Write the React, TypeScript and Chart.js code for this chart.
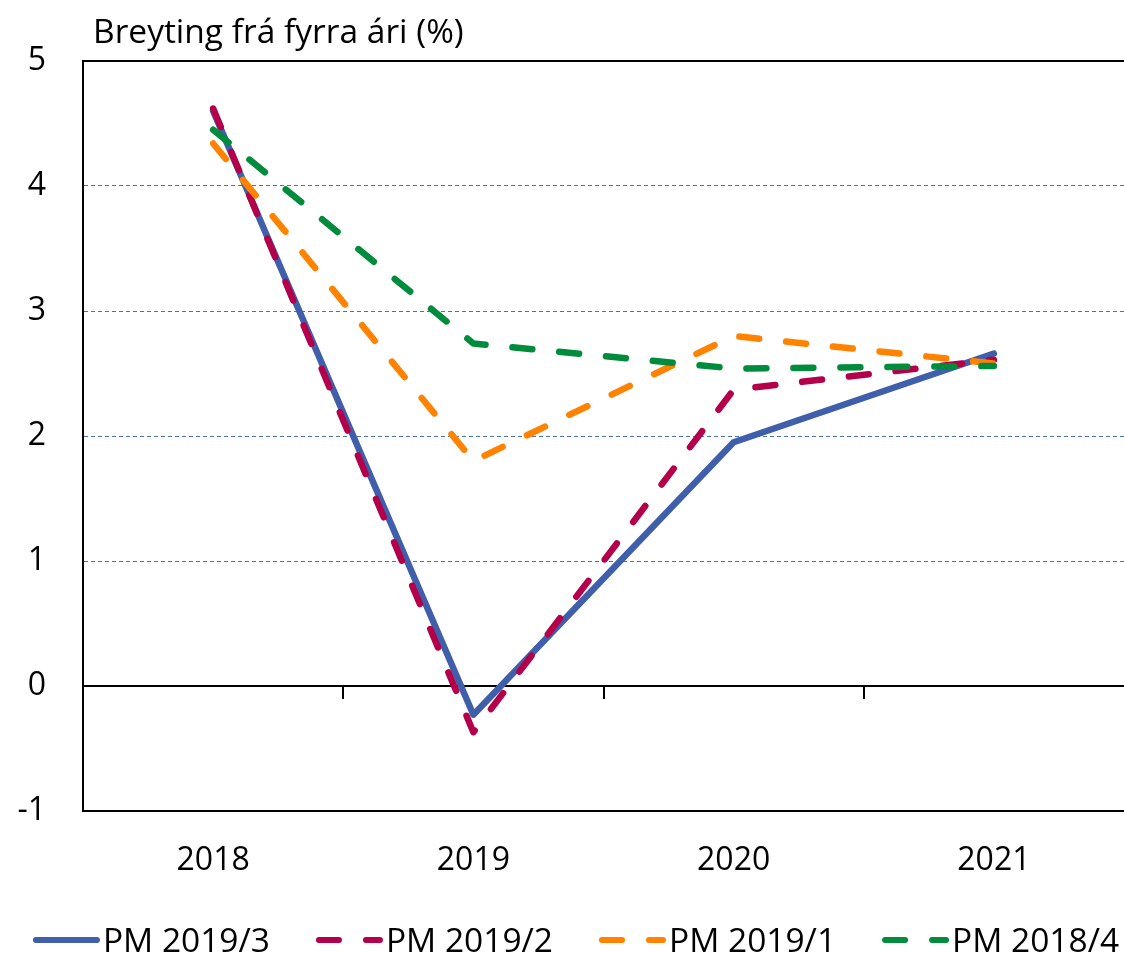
import React, { useEffect, useRef } from "react";
import { Chart, registerables } from "chart.js";

Chart.register(...registerables);

const categories = ["2018", "2019", "2020", "2021"];
const seriesLabels = ["PM 2019/3", "PM 2019/2", "PM 2019/1", "PM 2018/4"];
const pm2019_3 = [4.6, -0.23, 1.95, 2.66];
const pm2019_2 = [4.62, -0.37, 2.37, 2.61];
const pm2019_1 = [4.34, 1.8, 2.8, 2.58];
const pm2018_4 = [4.45, 2.74, 2.54, 2.56];
const yMin = -1;
const yMax = 5;
const yStep = 1;
const titleText = "Breyting frá fyrra ári (%)";

const FONT = "'Open Sans', 'Noto Sans', sans-serif";
const W = 1124;
const H = 956;
const DASH = [20, 27];

const decorPlugin = {
  id: "decor",
  beforeDatasetsDraw(chart: any) {
    const { ctx, scales } = chart;
    const x = scales.x;
    const y = scales.y;
    const y0 = y.getPixelForValue(0);
    ctx.save();
    ctx.strokeStyle = "#000";
    ctx.lineWidth = 2;
    for (let i = 1; i < categories.length; i++) {
      const px = Math.round((x.getPixelForValue(i - 1) + x.getPixelForValue(i)) / 2);
      ctx.beginPath();
      ctx.moveTo(px, y0);
      ctx.lineTo(px, y0 + 13);
      ctx.stroke();
    }
    ctx.restore();
  },
  afterDraw(chart: any) {
    const { ctx, chartArea } = chart;
    ctx.save();
    // title
    ctx.fillStyle = "#000";
    ctx.font = `33.5px ${FONT}`;
    ctx.textAlign = "left";
    ctx.textBaseline = "alphabetic";
    ctx.fillText(titleText, chartArea.left + 10, 43);

    // legend
    ctx.font = `33.5px ${FONT}`;
    const sampleW = 67;
    const textGap = 3;
    const itemGap = 46;
    const ds = chart.data.datasets;
    const widths = ds.map((d: any) => sampleW + textGap + ctx.measureText(d.label).width);
    const total = widths.reduce((a: number, b: number) => a + b, 0) + itemGap * (ds.length - 1);
    let x = (chart.width - total) / 2 + 14;
    const ly = 940;
    ds.forEach((d: any, i: number) => {
      ctx.save();
      ctx.strokeStyle = d.borderColor;
      ctx.lineWidth = 6;
      ctx.lineCap = "round";
      ctx.setLineDash(d.borderDash || []);
      ctx.beginPath();
      ctx.moveTo(x + 3, ly);
      ctx.lineTo(x + sampleW - 3, ly);
      ctx.stroke();
      ctx.restore();
      ctx.fillStyle = "#000";
      ctx.textAlign = "left";
      ctx.textBaseline = "alphabetic";
      ctx.fillText(d.label, x + sampleW + textGap, 952);
      x += widths[i] + itemGap;
    });
    ctx.restore();
  },
};

export default function App() {
  const canvasRef = useRef<HTMLCanvasElement | null>(null);

  useEffect(() => {
    const canvas = canvasRef.current;
    if (!canvas) return;
    const colors = ["#3F5FAA", "#B4004B", "#FF8300", "#008C3C"];
    const values = [pm2019_3, pm2019_2, pm2019_1, pm2018_4];
    const chart = new Chart(canvas, {
      type: "line",
      data: {
        labels: categories,
        datasets: values.map((v, i) => ({
          label: seriesLabels[i],
          data: v,
          borderColor: colors[i],
          backgroundColor: colors[i],
          borderWidth: 6.5,
          borderDash: i === 0 ? [] : DASH,
          borderCapStyle: "round",
          borderJoinStyle: "round",
          pointRadius: 0,
          pointHoverRadius: 0,
          tension: 0,
          fill: false,
          order: 4 - i,
        })),
      },
      options: {
        responsive: false,
        animation: false,
        events: [],
        layout: { padding: { top: 61, right: 0, bottom: 0, left: 0 } },
        plugins: {
          legend: { display: false },
          title: { display: false },
          tooltip: { enabled: false },
        },
        scales: {
          x: {
            type: "category",
            offset: true,
            grid: { display: false, drawTicks: false },
            border: { display: true, color: "#000", width: 2 },
            ticks: {
              color: "#000",
              font: { family: FONT, size: 32 },
              padding: 31,
              maxRotation: 0,
              autoSkip: false,
            },
            afterFit: (s: any) => {
              s.height = H - 811;
            },
          },
          y: {
            type: "linear",
            min: yMin,
            max: yMax,
            ticks: {
              stepSize: yStep,
              color: "#000",
              font: { family: FONT, size: 32 },
              padding: 37,
            },
            grid: {
              drawTicks: false,
              color: (c: any) => {
                const v = c.tick ? c.tick.value : null;
                return v === 0 || v === yMin || v === yMax ? "#000" : "#4F72AE";
              },
              lineWidth: (c: any) => {
                const v = c.tick ? c.tick.value : null;
                return v === 0 || v === yMin || v === yMax ? 2 : 1;
              },
            },
            border: {
              display: true,
              color: "#000",
              width: 2,
              dash: (c: any) => {
                const v = c.tick ? c.tick.value : null;
                if (v === null || v === undefined) return [];
                return v === 0 || v === yMin || v === yMax ? [] : [4, 3];
              },
            },
            afterFit: (s: any) => {
              s.width = 83;
            },
          },
        },
      },
      plugins: [decorPlugin],
    });
    return () => chart.destroy();
  }, []);

  return (
    <div style={{ position: "absolute", left: 0, top: 0, width: W, height: H, background: "#fff" }}>
      <canvas ref={canvasRef} width={W} height={H} style={{ display: "block" }} />
    </div>
  );
}
